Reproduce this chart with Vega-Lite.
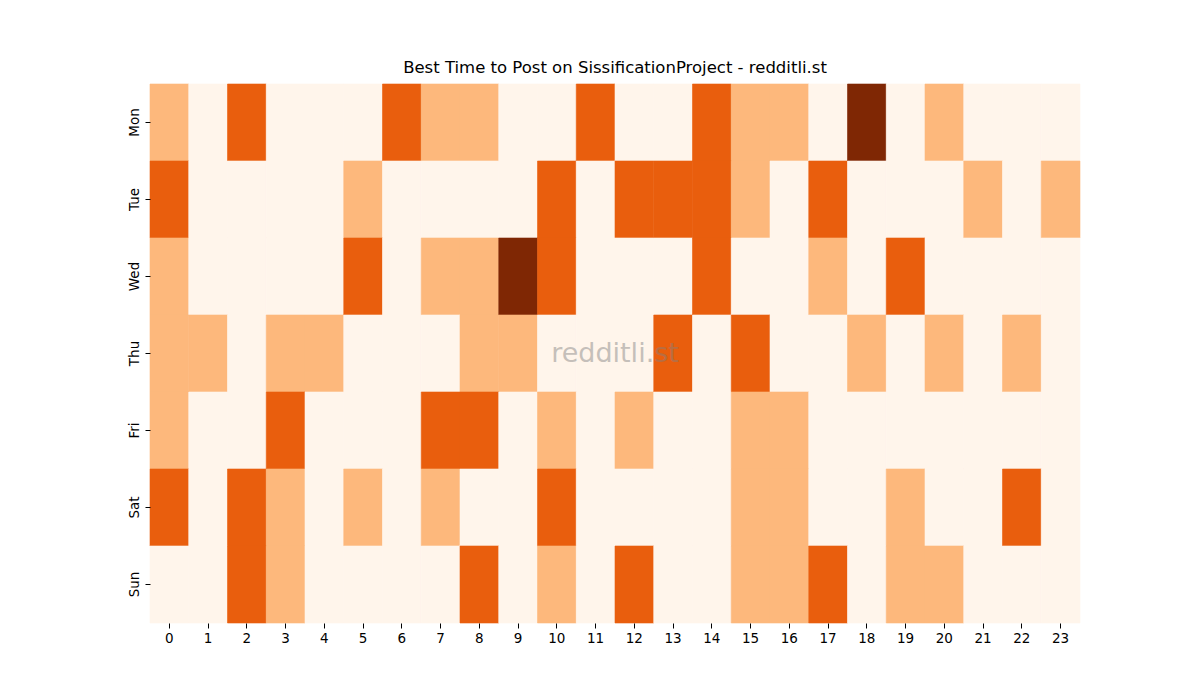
{
  "$schema": "https://vega.github.io/schema/vega-lite/v6.json",
  "width": 930,
  "height": 539,
  "autosize": "none",
  "padding": {"left": 150, "top": 84, "right": 120, "bottom": 77},
  "background": "white",
  "config": {
    "view": {"stroke": null},
    "font": "DejaVu Sans"
  },
  "title": {
    "text": "Best Time to Post on SissificationProject - redditli.st",
    "fontSize": 16.5,
    "fontWeight": "normal",
    "color": "black",
    "offset": 7
  },
  "data": {
    "values": [
      {"day":"Mon","hour":0,"count":1},{"day":"Mon","hour":1,"count":0},{"day":"Mon","hour":2,"count":2},{"day":"Mon","hour":3,"count":0},{"day":"Mon","hour":4,"count":0},{"day":"Mon","hour":5,"count":0},{"day":"Mon","hour":6,"count":2},{"day":"Mon","hour":7,"count":1},{"day":"Mon","hour":8,"count":1},{"day":"Mon","hour":9,"count":0},{"day":"Mon","hour":10,"count":0},{"day":"Mon","hour":11,"count":2},{"day":"Mon","hour":12,"count":0},{"day":"Mon","hour":13,"count":0},{"day":"Mon","hour":14,"count":2},{"day":"Mon","hour":15,"count":1},{"day":"Mon","hour":16,"count":1},{"day":"Mon","hour":17,"count":0},{"day":"Mon","hour":18,"count":3},{"day":"Mon","hour":19,"count":0},{"day":"Mon","hour":20,"count":1},{"day":"Mon","hour":21,"count":0},{"day":"Mon","hour":22,"count":0},{"day":"Mon","hour":23,"count":0},
      {"day":"Tue","hour":0,"count":2},{"day":"Tue","hour":1,"count":0},{"day":"Tue","hour":2,"count":0},{"day":"Tue","hour":3,"count":0},{"day":"Tue","hour":4,"count":0},{"day":"Tue","hour":5,"count":1},{"day":"Tue","hour":6,"count":0},{"day":"Tue","hour":7,"count":0},{"day":"Tue","hour":8,"count":0},{"day":"Tue","hour":9,"count":0},{"day":"Tue","hour":10,"count":2},{"day":"Tue","hour":11,"count":0},{"day":"Tue","hour":12,"count":2},{"day":"Tue","hour":13,"count":2},{"day":"Tue","hour":14,"count":2},{"day":"Tue","hour":15,"count":1},{"day":"Tue","hour":16,"count":0},{"day":"Tue","hour":17,"count":2},{"day":"Tue","hour":18,"count":0},{"day":"Tue","hour":19,"count":0},{"day":"Tue","hour":20,"count":0},{"day":"Tue","hour":21,"count":1},{"day":"Tue","hour":22,"count":0},{"day":"Tue","hour":23,"count":1},
      {"day":"Wed","hour":0,"count":1},{"day":"Wed","hour":1,"count":0},{"day":"Wed","hour":2,"count":0},{"day":"Wed","hour":3,"count":0},{"day":"Wed","hour":4,"count":0},{"day":"Wed","hour":5,"count":2},{"day":"Wed","hour":6,"count":0},{"day":"Wed","hour":7,"count":1},{"day":"Wed","hour":8,"count":1},{"day":"Wed","hour":9,"count":3},{"day":"Wed","hour":10,"count":2},{"day":"Wed","hour":11,"count":0},{"day":"Wed","hour":12,"count":0},{"day":"Wed","hour":13,"count":0},{"day":"Wed","hour":14,"count":2},{"day":"Wed","hour":15,"count":0},{"day":"Wed","hour":16,"count":0},{"day":"Wed","hour":17,"count":1},{"day":"Wed","hour":18,"count":0},{"day":"Wed","hour":19,"count":2},{"day":"Wed","hour":20,"count":0},{"day":"Wed","hour":21,"count":0},{"day":"Wed","hour":22,"count":0},{"day":"Wed","hour":23,"count":0},
      {"day":"Thu","hour":0,"count":1},{"day":"Thu","hour":1,"count":1},{"day":"Thu","hour":2,"count":0},{"day":"Thu","hour":3,"count":1},{"day":"Thu","hour":4,"count":1},{"day":"Thu","hour":5,"count":0},{"day":"Thu","hour":6,"count":0},{"day":"Thu","hour":7,"count":0},{"day":"Thu","hour":8,"count":1},{"day":"Thu","hour":9,"count":1},{"day":"Thu","hour":10,"count":0},{"day":"Thu","hour":11,"count":0},{"day":"Thu","hour":12,"count":0},{"day":"Thu","hour":13,"count":2},{"day":"Thu","hour":14,"count":0},{"day":"Thu","hour":15,"count":2},{"day":"Thu","hour":16,"count":0},{"day":"Thu","hour":17,"count":0},{"day":"Thu","hour":18,"count":1},{"day":"Thu","hour":19,"count":0},{"day":"Thu","hour":20,"count":1},{"day":"Thu","hour":21,"count":0},{"day":"Thu","hour":22,"count":1},{"day":"Thu","hour":23,"count":0},
      {"day":"Fri","hour":0,"count":1},{"day":"Fri","hour":1,"count":0},{"day":"Fri","hour":2,"count":0},{"day":"Fri","hour":3,"count":2},{"day":"Fri","hour":4,"count":0},{"day":"Fri","hour":5,"count":0},{"day":"Fri","hour":6,"count":0},{"day":"Fri","hour":7,"count":2},{"day":"Fri","hour":8,"count":2},{"day":"Fri","hour":9,"count":0},{"day":"Fri","hour":10,"count":1},{"day":"Fri","hour":11,"count":0},{"day":"Fri","hour":12,"count":1},{"day":"Fri","hour":13,"count":0},{"day":"Fri","hour":14,"count":0},{"day":"Fri","hour":15,"count":1},{"day":"Fri","hour":16,"count":1},{"day":"Fri","hour":17,"count":0},{"day":"Fri","hour":18,"count":0},{"day":"Fri","hour":19,"count":0},{"day":"Fri","hour":20,"count":0},{"day":"Fri","hour":21,"count":0},{"day":"Fri","hour":22,"count":0},{"day":"Fri","hour":23,"count":0},
      {"day":"Sat","hour":0,"count":2},{"day":"Sat","hour":1,"count":0},{"day":"Sat","hour":2,"count":2},{"day":"Sat","hour":3,"count":1},{"day":"Sat","hour":4,"count":0},{"day":"Sat","hour":5,"count":1},{"day":"Sat","hour":6,"count":0},{"day":"Sat","hour":7,"count":1},{"day":"Sat","hour":8,"count":0},{"day":"Sat","hour":9,"count":0},{"day":"Sat","hour":10,"count":2},{"day":"Sat","hour":11,"count":0},{"day":"Sat","hour":12,"count":0},{"day":"Sat","hour":13,"count":0},{"day":"Sat","hour":14,"count":0},{"day":"Sat","hour":15,"count":1},{"day":"Sat","hour":16,"count":1},{"day":"Sat","hour":17,"count":0},{"day":"Sat","hour":18,"count":0},{"day":"Sat","hour":19,"count":1},{"day":"Sat","hour":20,"count":0},{"day":"Sat","hour":21,"count":0},{"day":"Sat","hour":22,"count":2},{"day":"Sat","hour":23,"count":0},
      {"day":"Sun","hour":0,"count":0},{"day":"Sun","hour":1,"count":0},{"day":"Sun","hour":2,"count":2},{"day":"Sun","hour":3,"count":1},{"day":"Sun","hour":4,"count":0},{"day":"Sun","hour":5,"count":0},{"day":"Sun","hour":6,"count":0},{"day":"Sun","hour":7,"count":0},{"day":"Sun","hour":8,"count":2},{"day":"Sun","hour":9,"count":0},{"day":"Sun","hour":10,"count":1},{"day":"Sun","hour":11,"count":0},{"day":"Sun","hour":12,"count":2},{"day":"Sun","hour":13,"count":0},{"day":"Sun","hour":14,"count":0},{"day":"Sun","hour":15,"count":1},{"day":"Sun","hour":16,"count":1},{"day":"Sun","hour":17,"count":2},{"day":"Sun","hour":18,"count":0},{"day":"Sun","hour":19,"count":1},{"day":"Sun","hour":20,"count":1},{"day":"Sun","hour":21,"count":0},{"day":"Sun","hour":22,"count":0},{"day":"Sun","hour":23,"count":0}
    ]
  },
  "layer": [
    {
      "mark": {"type": "rect", "strokeWidth": 0.6},
      "encoding": {
        "x": {
          "field": "hour",
          "type": "ordinal",
          "title": null,
          "axis": {
            "labelAngle": 0,
            "labelFontSize": 13.5,
            "labelColor": "black",
            "domain": false,
            "tickColor": "black",
            "tickSize": 5,
            "labelPadding": 3
          }
        },
        "y": {
          "field": "day",
          "type": "ordinal",
          "sort": ["Mon", "Tue", "Wed", "Thu", "Fri", "Sat", "Sun"],
          "title": null,
          "axis": {
            "labelAngle": -90,
            "labelAlign": "center",
            "labelBaseline": "bottom",
            "labelFontSize": 13.5,
            "labelColor": "black",
            "domain": false,
            "tickColor": "black",
            "tickSize": 5,
            "labelPadding": 4
          }
        },
        "color": {
          "field": "count",
          "type": "ordinal",
          "scale": {
            "domain": [0, 1, 2, 3],
            "range": ["#fff5eb", "#fdb87c", "#e95e0d", "#7f2704"]
          },
          "legend": null
        },
        "stroke": {
          "field": "count",
          "type": "ordinal",
          "scale": {
            "domain": [0, 1, 2, 3],
            "range": ["#fff5eb", "#fdb87c", "#e95e0d", "#7f2704"]
          },
          "legend": null
        }
      }
    },
    {
      "data": {"values": [{"label": "redditli.st"}]},
      "mark": {
        "type": "text",
        "fontSize": 27,
        "color": "#808080",
        "opacity": 0.45,
        "align": "center",
        "baseline": "middle"
      },
      "encoding": {
        "text": {"field": "label"},
        "x": {"value": {"expr": "width / 2"}},
        "y": {"value": {"expr": "height / 2"}}
      }
    }
  ]
}
